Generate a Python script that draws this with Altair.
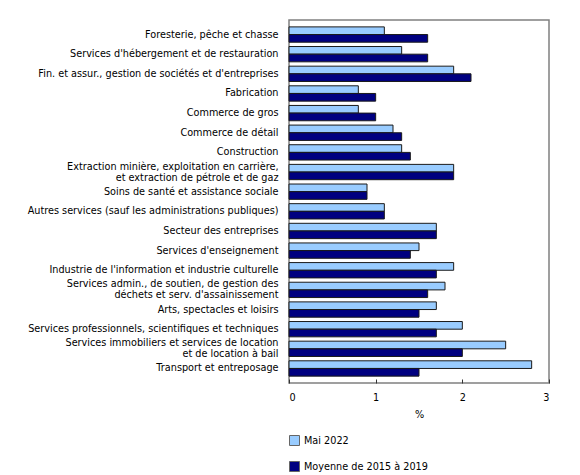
import altair as alt
import pandas as pd

categories = [
    "Foresterie, pêche et chasse",
    "Services d'hébergement et de restauration",
    "Fin. et assur., gestion de sociétés et d'entreprises",
    "Fabrication",
    "Commerce de gros",
    "Commerce de détail",
    "Construction",
    "Extraction minière, exploitation en carrière,\net extraction de pétrole et de gaz",
    "Soins de santé et assistance sociale",
    "Autres services (sauf les administrations publiques)",
    "Secteur des entreprises",
    "Services d'enseignement",
    "Industrie de l'information et industrie culturelle",
    "Services admin., de soutien, de gestion des\ndéchets et serv. d'assainissement",
    "Arts, spectacles et loisirs",
    "Services professionnels, scientifiques et techniques",
    "Services immobiliers et services de location\net de location à bail",
    "Transport et entreposage",
]
mai_2022 = [1.1, 1.3, 1.9, 0.8, 0.8, 1.2, 1.3, 1.9, 0.9, 1.1, 1.7, 1.5, 1.9, 1.8, 1.7, 2.0, 2.5, 2.8]
moyenne_2015_2019 = [1.6, 1.6, 2.1, 1.0, 1.0, 1.3, 1.4, 1.9, 0.9, 1.1, 1.7, 1.4, 1.7, 1.6, 1.5, 1.7, 2.0, 1.5]
series = ["Mai 2022", "Moyenne de 2015 à 2019"]
colors = ["#99CCFF", "#000080"]
x_ticks = [0, 1, 2, 3]

rows = []
for c, a, b in zip(categories, mai_2022, moyenne_2015_2019):
    rows.append({"cat": c, "serie": series[0], "val": a})
    rows.append({"cat": c, "serie": series[1], "val": b})
df = pd.DataFrame(rows)

FONT = "DejaVu Sans"
FS = 9.7

chart = alt.Chart(df).mark_bar(stroke="#1a1a1a", strokeWidth=1).encode(
    y=alt.Y("cat:N", sort=categories,
            scale=alt.Scale(paddingInner=0.22, paddingOuter=0.35),
            axis=alt.Axis(title=None, ticks=False, domain=False,
                          labelExpr="split(datum.label, '\\n')",
                          labelOffset={"condition": {"test": "indexof(datum.value, '\\n') >= 0",
                                                     "value": -5.5},
                                       "value": 0},
                          labelFont=FONT, labelFontSize=FS, labelColor="#000",
                          labelPadding=11, labelLimit=400, labelLineHeight=11)),
    yOffset=alt.YOffset("serie:N", sort=series),
    x=alt.X("val:Q", scale=alt.Scale(domain=[0, 3], nice=False),
            axis=alt.Axis(title="%", values=x_ticks, grid=False, format="d",
                          domain=False, offset=-4,
                          tickColor="#333", tickSize=4,
                          labelFont=FONT, labelFontSize=FS, labelColor="#000",
                          labelPadding=9, titleFont=FONT, titleFontSize=FS,
                          titleFontWeight="normal", titleColor="#000",
                          titlePadding=8)),
    color=alt.Color("serie:N", sort=series,
                    scale=alt.Scale(domain=series, range=colors),
                    legend=alt.Legend(title=None, orient="none", legendX=0, legendY=415,
                                      direction="vertical", symbolType="square",
                                      symbolSize=100, symbolStrokeColor="#666",
                                      symbolStrokeWidth=1, rowPadding=11,
                                      labelFont=FONT, labelFontSize=FS,
                                      labelColor="#000", labelOffset=4)),
).properties(
    width=260, height=363,
    padding={"left": 19, "top": 12, "right": 5, "bottom": 0},
).configure_view(
    stroke="#808080", strokeWidth=1.5
)

chart.save("out.html", embed_options={"renderer": "svg", "actions": False})
